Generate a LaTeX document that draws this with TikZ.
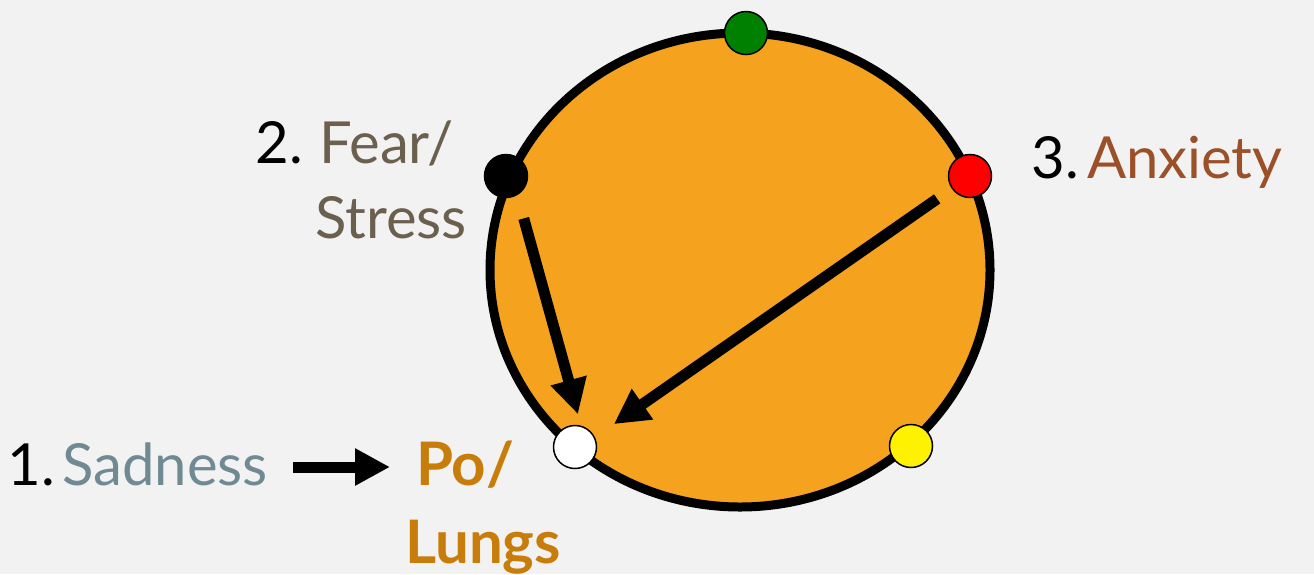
\documentclass[tikz,border=0pt]{standalone}
\usepackage{fontspec}
\setmainfont{Lato}
\usetikzlibrary{arrows.meta}
\definecolor{bgc}{RGB}{242,242,242}
\definecolor{orangec}{RGB}{245,162,30}
\definecolor{lungc}{RGB}{200,125,10}
\definecolor{sadc}{RGB}{111,138,146}
\definecolor{fearc}{RGB}{107,96,78}
\definecolor{anxc}{RGB}{155,80,40}
\definecolor{greenc}{RGB}{0,128,0}
\begin{document}
\begin{tikzpicture}[x=1pt,y=-1pt,
  dot/.style={circle,draw=black,line width=1.5pt,minimum size=43pt,inner sep=0pt},
  lbl/.style={inner sep=0pt,font=\fontsize{58}{60}\selectfont},
  blbl/.style={inner sep=0pt,font=\fontsize{60}{62}\selectfont\bfseries,text=lungc},
  arr/.style={line width=11pt,-{Triangle[length=35pt,width=35pt]}}]
\useasboundingbox (0,0) rectangle (1314,574);
\fill[bgc] (0,0) rectangle (1314,574);
\draw[line width=9pt, fill=orangec] (740,270) ellipse [x radius=250, y radius=237];
\node[dot,fill=greenc] (green) at (746,33) {};
\node[dot,fill=black] (black) at (506,176) {};
\node[dot,fill=red] (red) at (970,176) {};
\node[dot,fill=white] (white) at (575,447) {};
\node[dot,fill=yellow] (yellow) at (911,446) {};
\draw[arr, shorten <=44pt, shorten >=34pt] ([xshift=6pt]black.center) -- ([xshift=12pt]white.center);
\draw[arr, shorten <=40pt, shorten >=40pt] (red.center) -- ([xshift=6pt]white.center);
% labels
\node[lbl,anchor=base east] (n1) at (55,485) {1.};
\node[lbl,anchor=base east,text=sadc] (sad) at (268,485) {Sadness};
\node[lbl,anchor=base east] (n2) at (303,163) {2.};
\node[lbl,anchor=base west,text=fearc] (fear) at (319,163) {Fear/};
\node[lbl,anchor=base west,text=fearc] (stress) at (315,238) {Stress};
\node[lbl,anchor=base east] (n3) at (1079,178) {3.};
\node[lbl,anchor=base west,text=anxc] (anx) at (1087,178) {Anxiety};
\node[blbl,anchor=base west] (po) at (416,485) {Po/};
\node[blbl,anchor=base west] (lungs) at (405,563) {Lungs};
\draw[arr] ([xshift=25pt,yshift=18pt]sad.base east) -- ([xshift=-26pt,yshift=18pt]po.base west);
\end{tikzpicture}
\end{document}
